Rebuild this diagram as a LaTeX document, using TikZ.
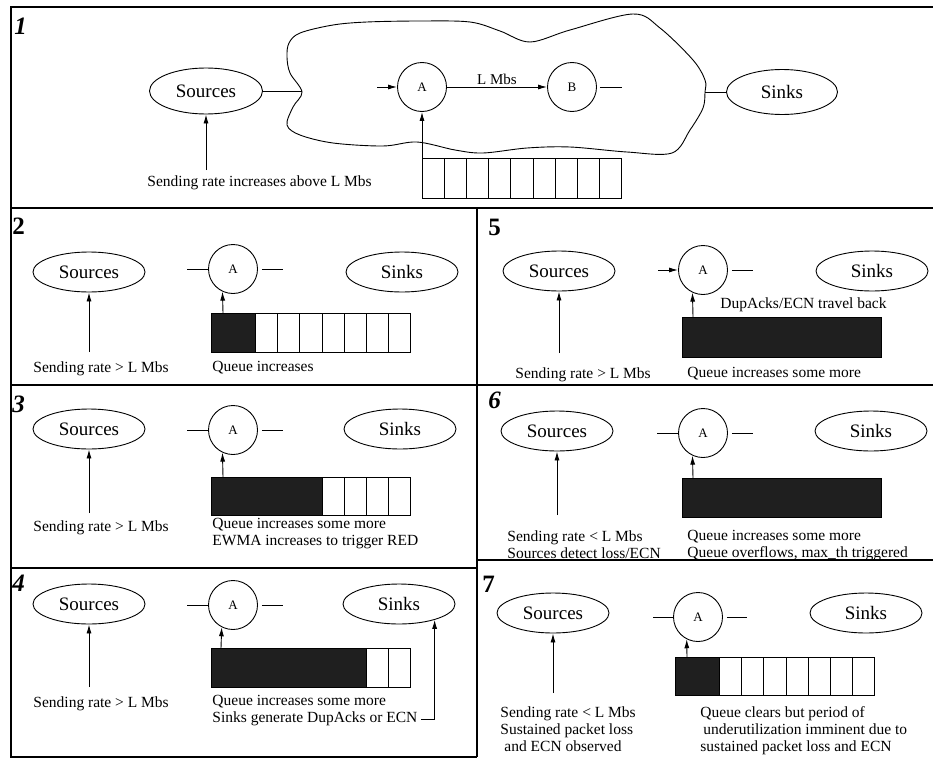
\documentclass[tikz,border=0pt]{standalone}
\usepackage{fontspec}
\setmainfont{Liberation Serif}
\usetikzlibrary{shapes,arrows.meta}

\begin{document}
\begin{tikzpicture}[x=1pt, y=-1pt, line width=0.9pt, node distance=144pt,
  src/.style={draw, ellipse, minimum width=112pt, minimum height=40pt, inner sep=0pt, font=\fontsize{19}{22}\selectfont},
  router/.style={draw, circle, minimum size=49pt, inner sep=0pt, font=\fontsize{13}{15}\selectfont},
  note/.style={anchor=north west, inner sep=0pt, align=left, font=\fontsize{15.5}{17}\selectfont},
  num/.style={anchor=north west, inner sep=0pt, font=\fontsize{25}{27}\selectfont\bfseries},
  line/.style={draw, -{Latex[length=9pt, width=5pt]}},
  frame/.style={line width=1.2pt},
  full/.style={draw, fill=black!88}]

  \useasboundingbox (0,0) rectangle (933,760);

  % Frame
  \draw [frame] (933,7) -- (11,7) -- (11,757) -- (477,757);
  \draw [frame] (11,208) -- (933,208);
  \draw [frame] (11,385) -- (933,385);
  \draw [frame] (11,568) -- (477,568);
  \draw [frame] (477,560) -- (933,560);
  \draw [frame] (477,208) -- (477,757);

  % Panel 1
  \node [num] (n1) at (14,18) {\itshape 1};
  \draw plot [smooth cycle, tension=0.55] coordinates {(302,92) (290,73) (287,57) (289,43) (300,33) (333,25)
    (367,22) (420,21) (470,22) (500,31) (530,42) (570,30) (633,14) (660,28) (693,60) (705,80) (705,92)
    (703,108) (690,130) (672,153) (627,152) (570,147) (527,148) (483,153) (455,150) (417,142) (383,146)
    (333,143) (300,135) (287,125) (293,107)};
  \node [src, minimum width=113pt, minimum height=46pt] (src1) at (206,91) {Sources};
  \node [router, right of=src1, node distance=216pt, yshift=4pt] (a1) {A};
  \node [router, right of=a1, node distance=150pt] (b1) {B};
  \node [src, right of=b1, node distance=210pt, yshift=-5pt, minimum width=111pt, minimum height=45pt] (snk1) {Sinks};
  \coordinate (c1l) at (302,91);
  \coordinate (c1r) at (705,92);
  \draw (src1) -- (c1l);
  \draw (c1r) -- (snk1);
  \path [line] ([xshift=-20pt]a1.west) -- (a1.west);
  \path [line] (a1) -- (b1) node [midway, above, inner sep=2pt, font=\fontsize{15}{17}\selectfont] (rate1) {L Mbs};
  \draw ([xshift=3pt]b1.east) -- ++(22,0);
  \fill [white] (422,158) rectangle ++(199.8,40);
  \foreach \i in {0,...,8} \draw (422+\i*22.2,158) rectangle ++(22.2,40);
  \coordinate (q1) at (422,158);
  \path [line] (q1) -- (a1.south);
  \node [note] (t1) at (147,175) {Sending rate increases above L Mbs};
  \coordinate (s1) at (206,170);
  \path [line] (s1) -- (src1.south);

  % Panel 2
  \node [num] (n2) at (12,217) {2};
  \node [src] (src2) at (89,272) {Sources};
  \node [router, right of=src2, yshift=3pt] (a2) {A};
  \node [src, right of=a2, node distance=169pt, yshift=-3pt] (snk2) {Sinks};
  \draw (a2.west) -- ++(-21,0);
  \draw ([xshift=4pt]a2.east) -- ++(21,0);
  \foreach \i in {0,...,8} \draw (211+\i*22.2,313) rectangle ++(22.2,39);
  \draw [full] (211,313) rectangle ++(44.4,39);
  \coordinate (q2) at (223,313);
  \path [line] (q2) -- (a2.245);
  \node [note] (t2) at (33,361) {Sending rate > L Mbs};
  \node [note] (u2) at (212,361) {Queue increases};
  \coordinate (s2) at (89,352);
  \path [line] (s2) -- (src2.south);

  % Panel 3
  \node [num] (n3) at (12,395) {\itshape 3};
  \node [src] (src3) at (89,429) {Sources};
  \node [router, right of=src3, yshift=-1pt] (a3) {A};
  \node [src, right of=a3, node distance=167pt, yshift=1pt] (snk3) {Sinks};
  \draw (a3.west) -- ++(-21,0);
  \draw ([xshift=4pt]a3.east) -- ++(21,0);
  \foreach \i in {0,...,8} \draw (211+\i*22.2,477) rectangle ++(22.2,38);
  \draw [full] (211,477) rectangle ++(111,38);
  \coordinate (q3) at (223,477);
  \path [line] (q3) -- (a3.245);
  \node [note] (t3) at (33,520) {Sending rate > L Mbs};
  \node [note] (u3) at (212,518) {Queue increases some more\\EWMA increases to trigger RED};
  \coordinate (s3) at (89,513);
  \path [line] (s3) -- (src3.south);

  % Panel 4
  \node [num] (n4) at (12,575) {\itshape 4};
  \node [src] (src4) at (89,604) {Sources};
  \node [router, right of=src4, yshift=-1pt] (a4) {A};
  \node [src, right of=a4, node distance=166pt, yshift=1pt] (snk4) {Sinks};
  \draw (a4.west) -- ++(-21,0);
  \draw ([xshift=4pt]a4.east) -- ++(21,0);
  \foreach \i in {0,...,8} \draw (211+\i*22.2,648) rectangle ++(22.2,39);
  \draw [full] (211,648) rectangle ++(155.4,39);
  \coordinate (q4) at (221,648);
  \path [line] (q4) -- (a4.243);
  \node [note] (t4) at (33,696) {Sending rate > L Mbs};
  \node [note] (u4) at (212,695) {Queue increases some more\\Sinks generate DupAcks or ECN};
  \coordinate (k4) at (421,719);
  \path [line] (k4) -| (snk4.-24);
  \coordinate (s4) at (89,687);
  \path [line] (s4) -- (src4.south);

  % Panel 5
  \node [num] (n5) at (488,219) {5};
  \node [src] (src5) at (559,271) {Sources};
  \node [router, right of=src5, yshift=1pt] (a5) {A};
  \node [src, right of=a5, node distance=169pt, yshift=-1pt] (snk5) {Sinks};
  \path [line] ([xshift=-20pt]a5.west) -- (a5.west);
  \draw ([xshift=4pt]a5.east) -- ++(21,0);
  \draw [full] (682,317) rectangle ++(199.8,40);
  \coordinate (q5) at (693,317);
  \path [line] (q5) -- (a5.245);
  \node [note] (v5) at (720,297) {DupAcks/ECN travel back};
  \node [note] (t5) at (515,367) {Sending rate > L Mbs};
  \node [note] (u5) at (687,367) {Queue increases some more};
  \coordinate (s5) at (559,353);
  \path [line] (s5) -- (src5.south);

  % Panel 6
  \node [num] (n6) at (488,391) {\itshape 6};
  \node [src] (src6) at (557,431) {Sources};
  \node [router, right of=src6, node distance=146pt, yshift=-2pt] (a6) {A};
  \node [src, right of=a6, node distance=168pt, yshift=2pt] (snk6) {Sinks};
  \draw (a6.west) -- ++(-21,0);
  \draw ([xshift=4pt]a6.east) -- ++(21,0);
  \draw [full] (682,478) rectangle ++(199.8,39);
  \coordinate (q6) at (693,478);
  \path [line] (q6) -- (a6.245);
  \node [note] (t6) at (507,530) {Sending rate < L Mbs\\Sources detect loss/ECN};
  \node [note] (u6) at (687,530) {Queue increases some more\\Queue overflows, max\_th triggered};
  \coordinate (s6) at (557,515);
  \path [line] (s6) -- (src6.south);

  % Panel 7
  \node [num] (n7) at (482,576) {7};
  \node [src] (src7) at (553,613) {Sources};
  \node [router, right of=src7, node distance=145pt, yshift=-4pt] (a7) {A};
  \node [src, right of=a7, node distance=168pt, yshift=4pt] (snk7) {Sinks};
  \draw (a7.west) -- ++(-20,0);
  \draw ([xshift=4pt]a7.east) -- ++(20,0);
  \foreach \i in {0,...,8} \draw (675+\i*22.2,657) rectangle ++(22.2,38);
  \draw [full] (675,657) rectangle ++(44.4,38);
  \coordinate (q7) at (687,657);
  \path [line] (q7) -- (a7.243);
  \node [note] (t7) at (500,706) {Sending rate < L Mbs\\Sustained packet loss\\\hspace{4pt}and ECN observed};
  \node [note] (u7) at (700,706) {Queue clears but period of\\\hspace{3pt}underutilization imminent due to\\sustained packet loss and ECN};
  \coordinate (s7) at (553,693);
  \path [line] (s7) -- (src7.south);
\end{tikzpicture}
\end{document}
